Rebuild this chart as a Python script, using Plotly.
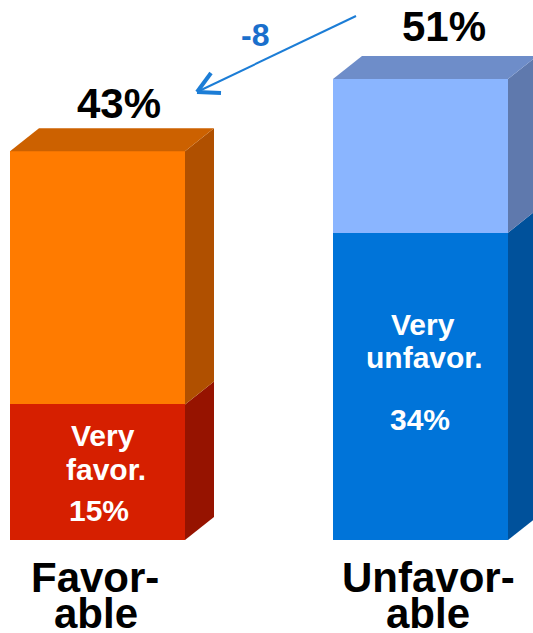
import plotly.graph_objects as go

# ---------------- data ----------------
categories = ["Favorable", "Unfavorable"]
cat_line1 = ["Favor-", "Unfavor-"]
cat_line2 = ["able", "able"]
total_pct = [43, 51]
very_pct = [15, 34]
very_line1 = ["Very", "Very"]
very_line2 = ["favor.", "unfavor."]
change_label = "-8"

rest_pct = [t - v for t, v in zip(total_pct, very_pct)]

# ---------------- styles ----------------
FONT = "Liberation Sans, Arial, Helvetica, sans-serif"
front_bottom = ["#D61F00", "#0074D9"]
front_top = ["#FF7B00", "#8AB5FF"]
side_bottom = ["#961300", "#00519B"]
side_top = ["#B05000", "#5F79AD"]
top_face = ["#CC6100", "#6E8DC9"]
arrow_col = "#1C7DD6"
delta_col = "#1A6FCC"

W, H = 533, 633
PX_PER_UNIT_X = 323.0      # pixels between bar centres
PX_PER_PCT = 9.04           # pixels per percentage point
X0_PX = 97.5                # pixel centre of first bar
BASE_PX = 540.0             # pixel of 0 %
BAR_W = 175.0 / PX_PER_UNIT_X
DX = 29.0 / PX_PER_UNIT_X   # 3D depth offsets
DY = 23.0 / PX_PER_PCT


def px2x(px):
    return (px - X0_PX) / PX_PER_UNIT_X


def px2y(py):
    return (BASE_PX - py) / PX_PER_PCT


xpos = list(range(len(categories)))

fig = go.Figure()

# front faces via stacked bars
fig.add_trace(go.Bar(x=xpos, y=very_pct, width=BAR_W, marker=dict(color=front_bottom, line=dict(width=0)),
                     hoverinfo="skip", showlegend=False))
fig.add_trace(go.Bar(x=xpos, y=rest_pct, width=BAR_W, marker=dict(color=front_top, line=dict(width=0)),
                     hoverinfo="skip", showlegend=False))


def poly(xs, ys, color):
    fig.add_trace(go.Scatter(x=xs + [xs[0]], y=ys + [ys[0]], fill="toself", fillcolor=color,
                             mode="lines", line=dict(width=0, color=color), hoverinfo="skip",
                             showlegend=False))


for i in xpos:
    xl = i - BAR_W / 2
    xr = i + BAR_W / 2
    segs = [(0, very_pct[i], side_bottom[i]), (very_pct[i], total_pct[i], side_top[i])]
    for b, t, c in segs:
        poly([xr, xr + DX, xr + DX, xr], [b, b + DY, t + DY, t], c)
    T = total_pct[i]
    poly([xl, xl + DX, xr + DX, xr], [T, T + DY, T + DY, T], top_face[i])

annotations = []


def ann(text, x, y, size, color, xshift=0, yshift=0):
    annotations.append(dict(text=text, x=x, y=y, xref="x", yref="y", showarrow=False,
                            xanchor="center", yanchor="middle", xshift=xshift, yshift=yshift,
                            font=dict(family=FONT, size=size, color=color)))


# totals above bars
tot_shift = [(21, 47.5), (23.5, 52)]
for i in xpos:
    ann("<b>%d%%</b>" % total_pct[i], i, total_pct[i], 42, "black", tot_shift[i][0], tot_shift[i][1])

# inner labels
inner = [[(5, -31.5), (8, -65), (1.5, -106)], [(2.5, -92), (3.5, -125), (-0.5, -187)]]
for i in xpos:
    texts = [very_line1[i], very_line2[i], "%d%%" % very_pct[i]]
    for t, (xs, ys) in zip(texts, inner[i]):
        ann("<b>%s</b>" % t, i, very_pct[i], 30, "white", xs, ys)

# category labels
cat_shift = [[(-2.5, -37), (-1.5, -73)], [(7.5, -37), (7.5, -73)]]
for i in xpos:
    for t, (xs, ys) in zip([cat_line1[i], cat_line2[i]], cat_shift[i]):
        ann("<b>%s</b>" % t, i, 0, 42, "black", xs, ys)

# change label
ann("<b>%s</b>" % change_label, px2x(255), px2y(35), 32, delta_col)

# arrow (shaft + open chevron head)
shapes = [
    dict(type="line", xref="x", yref="y", x0=px2x(356), y0=px2y(16), x1=px2x(199), y1=px2y(91),
         line=dict(color=arrow_col, width=2)),
    dict(type="line", xref="x", yref="y", x0=px2x(197), y0=px2y(92), x1=px2x(211), y1=px2y(73),
         line=dict(color=arrow_col, width=4)),
    dict(type="line", xref="x", yref="y", x0=px2x(197), y0=px2y(92), x1=px2x(221), y1=px2y(93),
         line=dict(color=arrow_col, width=4)),
]

fig.update_layout(
    width=W, height=H, margin=dict(l=0, r=0, t=0, b=0),
    paper_bgcolor="white", plot_bgcolor="white",
    barmode="stack", bargap=0,
    xaxis=dict(range=[px2x(0), px2x(W)], visible=False, fixedrange=True),
    yaxis=dict(range=[px2y(H), px2y(0)], visible=False, fixedrange=True),
    annotations=annotations, shapes=shapes, showlegend=False,
)

fig.write_html("out.html", config={"displayModeBar": False},
               post_script="document.body.style.margin='0px';document.body.style.overflow='hidden';")
